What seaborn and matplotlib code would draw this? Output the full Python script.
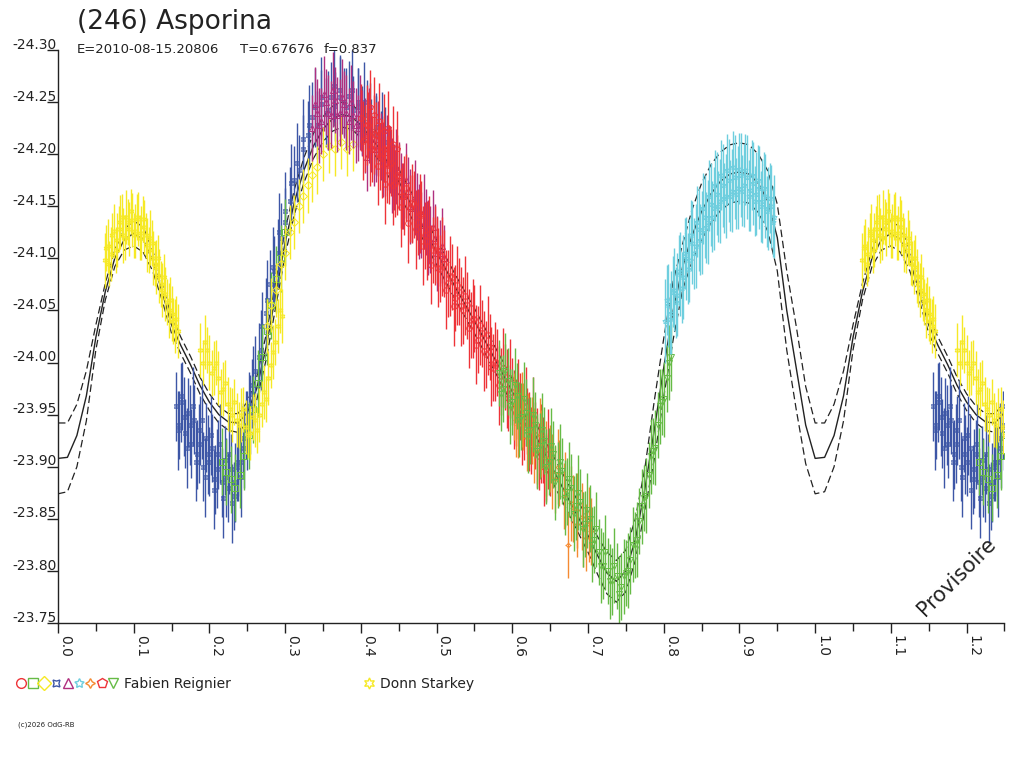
import numpy as np
import pandas as pd
import matplotlib
matplotlib.use("Agg")
import matplotlib.pyplot as plt
import matplotlib.transforms as mtrans
import seaborn as sns

# model light curve over one rotation + half width of the dashed envelope
model_phase = [0.0, 0.0125, 0.025, 0.0375, 0.05, 0.0625, 0.075, 0.0875, 0.1, 0.1125, 0.125, 0.1375,
               0.15, 0.1625, 0.175, 0.1875, 0.2, 0.2125, 0.225, 0.2375, 0.25, 0.2625, 0.275, 0.2875,
               0.3, 0.3125, 0.325, 0.3375, 0.35, 0.3625, 0.375, 0.3875, 0.4, 0.425, 0.45, 0.475,
               0.5, 0.525, 0.55, 0.575, 0.6, 0.625, 0.65, 0.675, 0.7, 0.7125, 0.725, 0.7375,
               0.75, 0.7625, 0.775, 0.7875, 0.8, 0.8125, 0.825, 0.8375, 0.85, 0.8625, 0.875, 0.8875,
               0.9, 0.9125, 0.925, 0.9375, 0.95, 0.9625, 0.975, 0.9875, 1.0]
model_mag = [-23.908, -23.909, -23.930, -23.968, -24.024, -24.068, -24.100, -24.118, -24.124, -24.118,
             -24.098, -24.068, -24.036, -24.016, -23.998, -23.978, -23.962, -23.950, -23.943, -23.942,
             -23.952, -23.975, -24.015, -24.065, -24.115, -24.155, -24.185, -24.208, -24.224, -24.234,
             -24.238, -24.236, -24.228, -24.205, -24.174, -24.140, -24.106, -24.072, -24.040, -24.006,
             -23.972, -23.938, -23.903, -23.868, -23.834, -23.815, -23.798, -23.790, -23.800, -23.830,
             -23.878, -23.935, -23.995, -24.050, -24.092, -24.122, -24.145, -24.162, -24.174, -24.181,
             -24.183, -24.181, -24.172, -24.155, -24.120, -24.050, -23.995, -23.940, -23.908]
model_band = [0.034, 0.033, 0.030, 0.024, 0.012, 0.008, 0.008, 0.010, 0.012, 0.012, 0.010, 0.008,
              0.008, 0.008, 0.008, 0.008, 0.008, 0.008, 0.008, 0.009, 0.010, 0.011, 0.012, 0.012,
              0.012, 0.012, 0.012, 0.012, 0.012, 0.012, 0.012, 0.012, 0.012, 0.012, 0.012, 0.012,
              0.012, 0.012, 0.012, 0.012, 0.012, 0.012, 0.013, 0.014, 0.016, 0.018, 0.020, 0.020,
              0.020, 0.020, 0.020, 0.028, 0.028, 0.028, 0.022, 0.025, 0.027, 0.028, 0.028, 0.028,
              0.028, 0.028, 0.028, 0.029, 0.032, 0.038, 0.040, 0.037, 0.034]

# ---- Fabien Reignier sessions (each read in two interleaved passes: *_phase / *b_phase)
s1_phase = [0.400, 0.405, 0.410, 0.415, 0.420, 0.425, 0.430, 0.435, 0.440, 0.445, 0.450, 0.455,
            0.460, 0.465, 0.470, 0.475, 0.480, 0.485, 0.490, 0.495, 0.500, 0.505, 0.510, 0.515,
            0.520, 0.525, 0.530, 0.535, 0.540, 0.545, 0.550, 0.555, 0.560, 0.565, 0.570, 0.575,
            0.580, 0.585, 0.590, 0.595, 0.600, 0.605, 0.610, 0.615, 0.620, 0.625, 0.630, 0.635,
            0.640, 0.645, 0.650]
s1_mag = [-24.235, -24.215, -24.228, -24.205, -24.218, -24.198, -24.205, -24.185, -24.192, -24.172,
          -24.178, -24.160, -24.168, -24.148, -24.152, -24.135, -24.142, -24.122, -24.128, -24.108,
          -24.108, -24.090, -24.095, -24.076, -24.082, -24.062, -24.068, -24.050, -24.055, -24.036,
          -24.042, -24.022, -24.028, -24.008, -24.015, -23.995, -24.000, -23.982, -23.986, -23.966,
          -23.972, -23.952, -23.958, -23.938, -23.944, -23.925, -23.930, -23.910, -23.916, -23.898,
          -23.904]
s1b_phase = [0.4025, 0.4075, 0.4125, 0.4175, 0.4225, 0.4275, 0.4325, 0.4375, 0.4425, 0.4475,
             0.4525, 0.4575, 0.4625, 0.4675, 0.4725, 0.4775, 0.4825, 0.4875, 0.4925, 0.4975,
             0.5025, 0.5075, 0.5125, 0.5175, 0.5225, 0.5275, 0.5325, 0.5375, 0.5425, 0.5475,
             0.5525, 0.5575, 0.5625, 0.5675, 0.5725, 0.5775, 0.5825, 0.5875, 0.5925, 0.5975,
             0.6025, 0.6075, 0.6125, 0.6175, 0.6225, 0.6275, 0.6325, 0.6375, 0.6425, 0.6475]
s1b_mag = [-24.213, -24.228, -24.207, -24.219, -24.189, -24.196, -24.171, -24.190, -24.170, -24.180,
           -24.149, -24.160, -24.134, -24.153, -24.128, -24.143, -24.112, -24.117, -24.094, -24.112,
           -24.091, -24.102, -24.070, -24.083, -24.054, -24.074, -24.054, -24.064, -24.033, -24.042,
           -24.017, -24.036, -24.011, -24.026, -23.996, -24.001, -23.978, -23.995, -23.975, -23.985,
           -23.955, -23.965, -23.940, -23.958, -23.934, -23.948, -23.918, -23.922, -23.900, -23.917]

s2_phase = [0.216, 0.222, 0.228, 0.234, 0.240, 0.246, 0.252, 0.258, 0.264, 0.270, 0.276, 0.282,
            0.288, 0.294, 0.300]
s2_mag = [-23.905, -23.895, -23.888, -23.880, -23.892, -23.910, -23.930, -23.955, -23.980, -24.005,
          -24.030, -24.055, -24.080, -24.100, -24.125]

s3_phase = [0.276, 0.282, 0.288, 0.294, 0.300, 0.306, 0.312, 0.318, 0.324, 0.330, 0.336, 0.342,
            0.350, 0.358, 0.366, 0.374, 0.382, 0.390]
s3_mag = [-24.035, -24.055, -24.070, -24.095, -24.105, -24.125, -24.135, -24.150, -24.160, -24.170,
          -24.180, -24.188, -24.200, -24.208, -24.205, -24.212, -24.205, -24.210]

s4_phase = [0.156, 0.160, 0.164, 0.168, 0.172, 0.176, 0.180, 0.184, 0.188, 0.192, 0.196, 0.200,
            0.204, 0.208, 0.212, 0.216, 0.220, 0.224, 0.228, 0.232, 0.236, 0.240, 0.244, 0.248,
            0.252, 0.256, 0.260, 0.265, 0.270, 0.275, 0.280, 0.285, 0.290, 0.295, 0.300, 0.306,
            0.312, 0.318, 0.324, 0.330, 0.336, 0.342, 0.348, 0.354, 0.360, 0.366, 0.372, 0.378,
            0.384, 0.390, 0.396, 0.402, 0.408, 0.414, 0.420, 0.426, 0.432]
s4_mag = [-23.958, -23.940, -23.968, -23.932, -23.952, -23.922, -23.945, -23.912, -23.935, -23.900,
          -23.928, -23.905, -23.918, -23.888, -23.912, -23.885, -23.906, -23.880, -23.898, -23.872,
          -23.900, -23.905, -23.928, -23.940, -23.958, -23.970, -23.992, -24.005, -24.035, -24.048,
          -24.075, -24.088, -24.105, -24.120, -24.135, -24.155, -24.175, -24.185, -24.205, -24.218,
          -24.236, -24.228, -24.248, -24.240, -24.255, -24.246, -24.262, -24.250, -24.256, -24.242,
          -24.250, -24.232, -24.238, -24.220, -24.226, -24.208, -24.212]
s4b_phase = [0.158, 0.162, 0.166, 0.170, 0.174, 0.178, 0.182, 0.186, 0.190, 0.194, 0.198, 0.202,
             0.206, 0.210, 0.214, 0.218, 0.222, 0.226, 0.230, 0.234, 0.238, 0.242, 0.246, 0.250,
             0.254, 0.258, 0.268, 0.276, 0.284, 0.292, 0.300, 0.308, 0.316, 0.324, 0.332, 0.340,
             0.348, 0.356, 0.364, 0.372, 0.380, 0.388, 0.396, 0.404, 0.412, 0.420, 0.428]
s4b_mag = [-23.935, -23.962, -23.948, -23.918, -23.940, -23.958, -23.905, -23.922, -23.945, -23.890,
           -23.912, -23.930, -23.878, -23.898, -23.922, -23.870, -23.890, -23.912, -23.865, -23.885,
           -23.905, -23.890, -23.918, -23.935, -23.950, -23.978, -24.012, -24.060, -24.092, -24.125,
           -24.145, -24.172, -24.192, -24.215, -24.228, -24.245, -24.255, -24.242, -24.265, -24.255,
           -24.245, -24.262, -24.245, -24.250, -24.230, -24.218, -24.222]

s5_phase = [0.336, 0.342, 0.348, 0.354, 0.360, 0.366, 0.372, 0.378, 0.384, 0.390, 0.396, 0.402,
            0.408, 0.414, 0.420, 0.426, 0.432, 0.438, 0.444, 0.450, 0.456, 0.462, 0.468, 0.474,
            0.480, 0.486, 0.492, 0.498, 0.504, 0.510]
s5_mag = [-24.225, -24.240, -24.232, -24.250, -24.238, -24.252, -24.240, -24.248, -24.232, -24.238,
          -24.225, -24.230, -24.197, -24.215, -24.205, -24.208, -24.192, -24.195, -24.178, -24.180,
          -24.160, -24.165, -24.148, -24.150, -24.132, -24.135, -24.118, -24.120, -24.105, -24.100]
s5b_phase = [0.339, 0.345, 0.351, 0.357, 0.363, 0.369, 0.375, 0.381, 0.387, 0.393, 0.399, 0.405,
             0.411, 0.417, 0.423, 0.429, 0.435, 0.441, 0.447, 0.453, 0.459, 0.465, 0.471, 0.477,
             0.483, 0.489, 0.495, 0.501, 0.507]
s5b_mag = [-24.248, -24.228, -24.258, -24.240, -24.262, -24.238, -24.255, -24.240, -24.250, -24.228,
           -24.240, -24.218, -24.228, -24.205, -24.215, -24.195, -24.202, -24.180, -24.188, -24.165,
           -24.175, -24.150, -24.158, -24.135, -24.145, -24.120, -24.130, -24.105, -24.112]

s6_phase = [0.802, 0.806, 0.810, 0.814, 0.818, 0.822, 0.826, 0.830, 0.834, 0.838, 0.842, 0.846,
            0.850, 0.854, 0.858, 0.862, 0.866, 0.870, 0.874, 0.878, 0.882, 0.886, 0.890, 0.894,
            0.898, 0.902, 0.906, 0.910, 0.914, 0.918, 0.922, 0.926, 0.930, 0.934, 0.938, 0.942,
            0.946]
s6_mag = [-24.040, -24.055, -24.048, -24.070, -24.065, -24.085, -24.082, -24.100, -24.098, -24.115,
          -24.112, -24.128, -24.125, -24.140, -24.135, -24.152, -24.148, -24.162, -24.155, -24.170,
          -24.160, -24.175, -24.165, -24.178, -24.168, -24.180, -24.170, -24.178, -24.166, -24.172,
          -24.162, -24.168, -24.155, -24.160, -24.148, -24.150, -24.140]
s6b_phase = [0.804, 0.808, 0.812, 0.816, 0.820, 0.824, 0.828, 0.832, 0.836, 0.840, 0.844, 0.848,
             0.852, 0.856, 0.860, 0.864, 0.868, 0.872, 0.876, 0.880, 0.884, 0.888, 0.892, 0.896,
             0.900, 0.904, 0.908, 0.912, 0.916, 0.920, 0.924, 0.928, 0.932, 0.936, 0.940, 0.944]
s6b_mag = [-24.060, -24.042, -24.068, -24.058, -24.088, -24.072, -24.105, -24.090, -24.122, -24.105,
           -24.135, -24.118, -24.148, -24.130, -24.160, -24.140, -24.170, -24.150, -24.180, -24.158,
           -24.185, -24.160, -24.188, -24.162, -24.186, -24.165, -24.185, -24.160, -24.180, -24.155,
           -24.175, -24.150, -24.168, -24.145, -24.158, -24.135]

s7_phase = [0.602, 0.608, 0.614, 0.620, 0.626, 0.632, 0.638, 0.644, 0.650, 0.656, 0.662, 0.668,
            0.674, 0.680, 0.686, 0.692, 0.698, 0.704]
s7_mag = [-23.958, -23.940, -23.948, -23.928, -23.935, -23.915, -23.922, -23.900, -23.908, -23.888,
          -23.894, -23.872, -23.825, -23.860, -23.845, -23.852, -23.832, -23.838]
s7b_phase = [0.605, 0.613, 0.621, 0.629, 0.637, 0.645, 0.653, 0.661, 0.669, 0.677, 0.685, 0.693, 0.701]
s7b_mag = [-23.945, -23.955, -23.935, -23.920, -23.930, -23.908, -23.895, -23.900, -23.878, -23.865,
           -23.858, -23.840, -23.845]

s8_phase = [0.412, 0.418, 0.424, 0.430, 0.436, 0.442, 0.448]
s8_mag = [-24.245, -24.238, -24.232, -24.222, -24.225, -24.210, -24.205]

s9_phase = [0.582, 0.588, 0.594, 0.600, 0.606, 0.612, 0.618, 0.624, 0.630, 0.636, 0.642, 0.648,
            0.654, 0.660, 0.666, 0.672, 0.678, 0.684, 0.690, 0.696, 0.702, 0.708, 0.714, 0.720,
            0.726, 0.732, 0.738, 0.744, 0.750, 0.756, 0.762, 0.768, 0.774, 0.780, 0.786, 0.792,
            0.798, 0.804, 0.810]
s9_mag = [-23.990, -23.975, -23.982, -23.962, -23.968, -23.948, -23.952, -23.935, -23.940, -23.920,
          -23.925, -23.905, -23.912, -23.892, -23.896, -23.876, -23.880, -23.862, -23.866, -23.845,
          -23.850, -23.830, -23.818, -23.805, -23.800, -23.790, -23.795, -23.785, -23.798, -23.810,
          -23.825, -23.848, -23.870, -23.892, -23.915, -23.940, -23.962, -23.985, -24.005]
s9b_phase = [0.585, 0.591, 0.597, 0.603, 0.609, 0.615, 0.621, 0.627, 0.633, 0.639, 0.645, 0.651,
             0.657, 0.663, 0.669, 0.675, 0.681, 0.687, 0.693, 0.699, 0.705, 0.711, 0.717, 0.723,
             0.729, 0.735, 0.741, 0.747, 0.753, 0.759, 0.765, 0.771, 0.777, 0.783, 0.789, 0.795,
             0.801, 0.807]
s9b_mag = [-23.970, -23.992, -23.958, -23.978, -23.945, -23.965, -23.930, -23.950, -23.915, -23.935,
           -23.900, -23.920, -23.885, -23.905, -23.870, -23.888, -23.855, -23.875, -23.840, -23.858,
           -23.825, -23.840, -23.805, -23.818, -23.790, -23.805, -23.778, -23.795, -23.800, -23.825,
           -23.830, -23.862, -23.872, -23.910, -23.918, -23.958, -23.965, -24.000]

# ---- Donn Starkey
ds_phase = [0.062, 0.066, 0.070, 0.074, 0.078, 0.082, 0.086, 0.090, 0.094, 0.098, 0.102, 0.106,
            0.110, 0.114, 0.118, 0.122, 0.126, 0.130, 0.134, 0.138, 0.142, 0.146, 0.150, 0.154,
            0.158,
            0.188, 0.194, 0.200, 0.206, 0.212, 0.218, 0.224, 0.230, 0.236, 0.242, 0.248, 0.254,
            0.260, 0.266, 0.272, 0.278, 0.284, 0.290, 0.296]
ds_mag = [-24.098, -24.112, -24.104, -24.126, -24.118, -24.135, -24.122, -24.140, -24.128, -24.137,
          -24.126, -24.138, -24.124, -24.130, -24.113, -24.120, -24.100, -24.092, -24.083, -24.070,
          -24.066, -24.050, -24.047, -24.035, -24.030,
          -24.012, -24.020, -24.000, -23.995, -23.985, -23.975, -23.960, -23.950, -23.945, -23.950,
          -23.938, -23.932, -23.945, -23.950, -23.972, -23.985, -24.010, -24.035, -24.045]
dsb_phase = [0.064, 0.068, 0.072, 0.076, 0.080, 0.084, 0.088, 0.092, 0.096, 0.100, 0.104, 0.108,
             0.112, 0.116, 0.120, 0.124, 0.128, 0.132, 0.136, 0.140, 0.144, 0.148, 0.152, 0.156,
             0.191, 0.197, 0.203, 0.209, 0.215, 0.221, 0.227, 0.233, 0.239, 0.245, 0.251, 0.257,
             0.263, 0.269, 0.275, 0.281, 0.287, 0.293]
dsb_mag = [-24.110, -24.095, -24.122, -24.108, -24.128, -24.140, -24.120, -24.135, -24.145, -24.122,
           -24.140, -24.120, -24.138, -24.122, -24.108, -24.115, -24.095, -24.100, -24.075, -24.082,
           -24.058, -24.060, -24.040, -24.042,
           -24.000, -24.012, -23.990, -24.000, -23.972, -23.980, -23.955, -23.962, -23.940, -23.955,
           -23.930, -23.948, -23.935, -23.960, -23.965, -23.998, -24.020, -24.050]

y_ticks = [-24.30, -24.25, -24.20, -24.15, -24.10, -24.05, -24.00, -23.95, -23.90, -23.85, -23.80, -23.75]
x_ticks = [0.0, 0.1, 0.2, 0.3, 0.4, 0.5, 0.6, 0.7, 0.8, 0.9, 1.0, 1.1, 1.2]
x_minor = [0.05, 0.15, 0.25, 0.35, 0.45, 0.55, 0.65, 0.75, 0.85, 0.95, 1.05, 1.15, 1.25]

RED, GREEN, YELLOW, BLUE = "#EE3338", "#66BB46", "#F6E925", "#3D56A6"
MAGENTA, CYAN, ORANGE = "#B0307F", "#6ECEDE", "#F58A32"
ink = "#222222"

# legend symbols, in legend order
fabien_keys = [(RED, "o"), (GREEN, "s"), (YELLOW, "D"), (BLUE, (4, 1, 45)), (MAGENTA, "^"),
               (CYAN, (5, 1, 0)), (ORANGE, (4, 1, 0)), (RED, "p"), (GREEN, "v")]
donn_key = (YELLOW, (6, 1, 0))

# (phase, mag, error bar half-height, colour, marker) in drawing order
chunks = [
    (s4_phase, s4_mag, 0.033, BLUE, (4, 1, 45)),
    (s4b_phase, s4b_mag, 0.038, BLUE, (4, 1, 45)),
    (s2_phase, s2_mag, 0.032, GREEN, "s"),
    (s3_phase, s3_mag, 0.026, YELLOW, "D"),
    (s5_phase, s5_mag, 0.032, MAGENTA, "^"),
    (s5b_phase, s5b_mag, 0.036, MAGENTA, "^"),
    (s1_phase, s1_mag, 0.032, RED, "o"),
    (s1b_phase, s1b_mag, 0.038, RED, "o"),
    (s8_phase, s8_mag, 0.036, RED, "p"),
    (s7_phase, s7_mag, 0.032, ORANGE, (4, 1, 0)),
    (s7b_phase, s7b_mag, 0.036, ORANGE, (4, 1, 0)),
    (s9_phase, s9_mag, 0.032, GREEN, "v"),
    (s9b_phase, s9b_mag, 0.036, GREEN, "v"),
    (s6_phase, s6_mag, 0.040, CYAN, (5, 1, 0)),
    (s6b_phase, s6b_mag, 0.034, CYAN, (5, 1, 0)),
    (ds_phase, ds_mag, 0.026, YELLOW, (6, 1, 0)),
    (dsb_phase, dsb_mag, 0.022, YELLOW, (6, 1, 0)),
]

sns.set_style("ticks")
plt.rcParams["font.family"] = ["DejaVu Sans"]

fig = plt.figure(figsize=(10.24, 7.68), dpi=100)
ax = fig.add_axes([0.0566, 0.1888, 0.9243, 0.7461])

mdl = pd.DataFrame({"phase": model_phase, "mag": model_mag, "band": model_band})
mdl = pd.concat([mdl, mdl.assign(phase=mdl["phase"] + 1)], ignore_index=True)
mdl["upper"] = mdl["mag"] - mdl["band"]
mdl["lower"] = mdl["mag"] + mdl["band"]

sns.lineplot(data=mdl, x="phase", y="mag", ax=ax, color=ink, lw=1.0,
             estimator=None, sort=False, zorder=1)
for col in ("upper", "lower"):
    sns.lineplot(data=mdl, x="phase", y=col, ax=ax, color=ink, lw=0.9,
                 estimator=None, sort=False, linestyle=(0, (6, 3)), zorder=1)

# each point is shown at its phase and again one rotation later (phase + 1)
for ph, mg, err, col, mk in chunks:
    d = pd.DataFrame({"phase": ph, "mag": mg})
    d = pd.concat([d, d.assign(phase=d["phase"] + 1)], ignore_index=True)
    ax.errorbar(d["phase"], d["mag"], yerr=err, fmt="none", ecolor=col,
                elinewidth=1.0, capsize=0, zorder=2)
    ax.plot(d["phase"], d["mag"], ls="none", marker=mk, mfc="none", mec=col,
            ms=4, mew=0.7, zorder=2)

ax.set_xlim(0, 1.25)
ax.set_ylim(-23.75, -24.30)
ax.set_xlabel("")
ax.set_ylabel("")
ax.set_xticks(x_ticks)
ax.set_xticklabels([f"{v:.1f}" for v in x_ticks], rotation=-90, ha="left", va="top",
                   fontsize=10, color=ink)
ax.set_xticks(x_minor, minor=True)
ax.tick_params(axis="x", which="major", length=7.5, width=1, pad=1, color=ink)
ax.tick_params(axis="x", which="minor", length=6, width=1, color=ink)
ax.set_yticks(y_ticks)
ax.set_yticklabels([])
ax.tick_params(axis="y", length=8, width=1, color=ink)
sns.despine(ax=ax)
for side in ("left", "bottom"):
    ax.spines[side].set_color(ink)
    ax.spines[side].set_linewidth(1)

ytrans = mtrans.blended_transform_factory(ax.transAxes, ax.transData)
for v in y_ticks:
    ax.annotate(f"{v:.2f}", xy=(0, v), xycoords=ytrans, xytext=(-1, 1),
                textcoords="offset points", ha="right", va="baseline",
                fontsize=10, color=ink, annotation_clip=False)

# titles and annotations (pixel positions converted to figure fractions)
W, H = 1024, 768
fig.text(77 / W, 1 - 29 / H, "(246) Asporina", fontsize=19, color=ink, va="baseline")
fig.text(77 / W, 1 - 53 / H, "E=2010-08-15.20806", fontsize=9.5, color=ink, va="baseline")
fig.text(240 / W, 1 - 53 / H, "T=0.67676", fontsize=9.5, color=ink, va="baseline")
fig.text(324 / W, 1 - 53 / H, "f=0.837", fontsize=9.5, color=ink, va="baseline")
fig.text(957 / W, 1 - 577 / H, "Provisoire", fontsize=15, color=ink, rotation=45,
         ha="center", va="center")
fig.text(18 / W, 1 - 727 / H, "(c)2026 OdG-RB", fontsize=5, color=ink, va="baseline")

# legend row drawn on a transparent overlay in pixel coordinates
lax = fig.add_axes([0, 0, 1, 1])
lax.set_xlim(0, W)
lax.set_ylim(H, 0)
lax.axis("off")
leg_x = [21, 33, 44, 56, 68, 79, 90, 102, 113]
for x, (col, mk) in zip(leg_x, fabien_keys):
    lax.plot([x], [683], ls="none", marker=mk, mfc="none", mec=col, ms=7, mew=1)
lax.text(124, 688, "Fabien Reignier", fontsize=10, color=ink, va="baseline")
lax.plot([369], [683], ls="none", marker=donn_key[1], mfc="none", mec=donn_key[0], ms=8, mew=1)
lax.text(380, 688, "Donn Starkey", fontsize=10, color=ink, va="baseline")

fig.savefig("out.png", dpi=100)
